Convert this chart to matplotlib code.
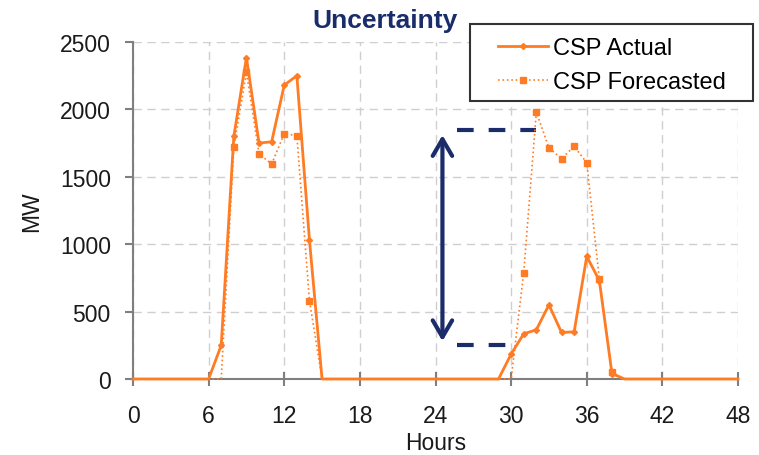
import matplotlib
matplotlib.use('Agg')
import matplotlib.pyplot as plt
from matplotlib.patches import Rectangle

plt.rcParams['font.family'] = ['Liberation Sans', 'DejaVu Sans']

# hourly CSP output, MW
hours = list(range(49))
csp_actual = ([0] * 7 +
              [250, 1800, 2385, 1750, 1760, 2180, 2250, 1030] +
              [0] * 15 +
              [185, 335, 365, 550, 345, 350, 910, 730, 40] +
              [0] * 10)
csp_forecast = ([0] * 8 +
                [1720, 2275, 1670, 1595, 1820, 1805, 580] +
                [0] * 16 +
                [790, 1980, 1715, 1635, 1725, 1605, 740, 50] +
                [0] * 10)

xticks = [0, 6, 12, 18, 24, 30, 36, 42, 48]
yticks = [0, 500, 1000, 1500, 2000, 2500]

orange = '#ff7b24'
navy = '#1b2c6b'

W, H = 759, 456
fig = plt.figure(figsize=(W / 100, H / 100), dpi=100)
ax = fig.add_axes([133 / W, 1 - 380 / H, 605 / W, 337 / H])

mark_a = [i for i, v in enumerate(csp_actual) if v > 0]
mark_f = [i for i, v in enumerate(csp_forecast) if v > 0]

ax.plot(hours, csp_actual, color=orange, lw=2, marker='D', ms=3,
        markevery=mark_a, label='CSP Actual', zorder=4, clip_on=False)
ax.plot(hours, csp_forecast, color=orange, lw=1.2, ls=':', marker='s', ms=4.5,
        markevery=mark_f, label='CSP Forecasted', zorder=3, clip_on=False)

# uncertainty band annotation
ax.annotate('', xy=(24.55, 1830), xytext=(24.55, 260),
            arrowprops=dict(arrowstyle='<->,head_length=0.6,head_width=0.35',
                            color=navy, lw=3, mutation_scale=20))
ax.plot([25.7, 32.0], [1845, 1845], color=navy, lw=3,
        ls=(0, (4, 3.6)), dash_capstyle='butt')
ax.plot([25.7, 29.7], [250, 250], color=navy, lw=3,
        ls=(0, (4, 3.6)), dash_capstyle='butt')

ax.set_xlim(0, 48)
ax.set_ylim(0, 2500)
ax.set_xticks(xticks)
ax.set_yticks(yticks)
ax.grid(True, color='#cfcfcf', ls=(0, (6, 4)), lw=1)
ax.set_axisbelow(True)

for s in ['top', 'right']:
    ax.spines[s].set_visible(False)
for s in ['left', 'bottom']:
    ax.spines[s].set_color('#7f7f7f')
    ax.spines[s].set_linewidth(1.5)
ax.tick_params(colors='#7f7f7f', labelcolor='#1a1a1a', labelsize=16.5,
               width=1.5)
ax.tick_params(axis='y', length=6, pad=10)
ax.tick_params(axis='x', direction='inout', length=10, pad=13)

ax.set_xlabel('Hours', fontsize=16.5, color='#1a1a1a', labelpad=3)
ax.set_ylabel('MW', fontsize=16.5, color='#1a1a1a', labelpad=12)

fig.text(385 / W, 1 - 21 / H, 'Uncertainty', ha='center', va='center',
         fontsize=19, fontweight='bold', color=navy)

# legend box drawn by hand, legend entries inside
fig.patches.append(Rectangle((470 / W, 1 - 102 / H), 283 / W, 77 / H,
                             transform=fig.transFigure, fill=True,
                             facecolor='white', edgecolor='#333333', lw=1.5,
                             zorder=5))
leg = fig.legend(loc='upper left', bbox_to_anchor=(498 / W, 1 - 38 / H),
                 fontsize=17, frameon=False, borderpad=0, borderaxespad=0,
                 handlelength=2.1, labelspacing=0.5, handletextpad=0.25)
leg.set_zorder(6)

fig.savefig('out.png', dpi=100)
